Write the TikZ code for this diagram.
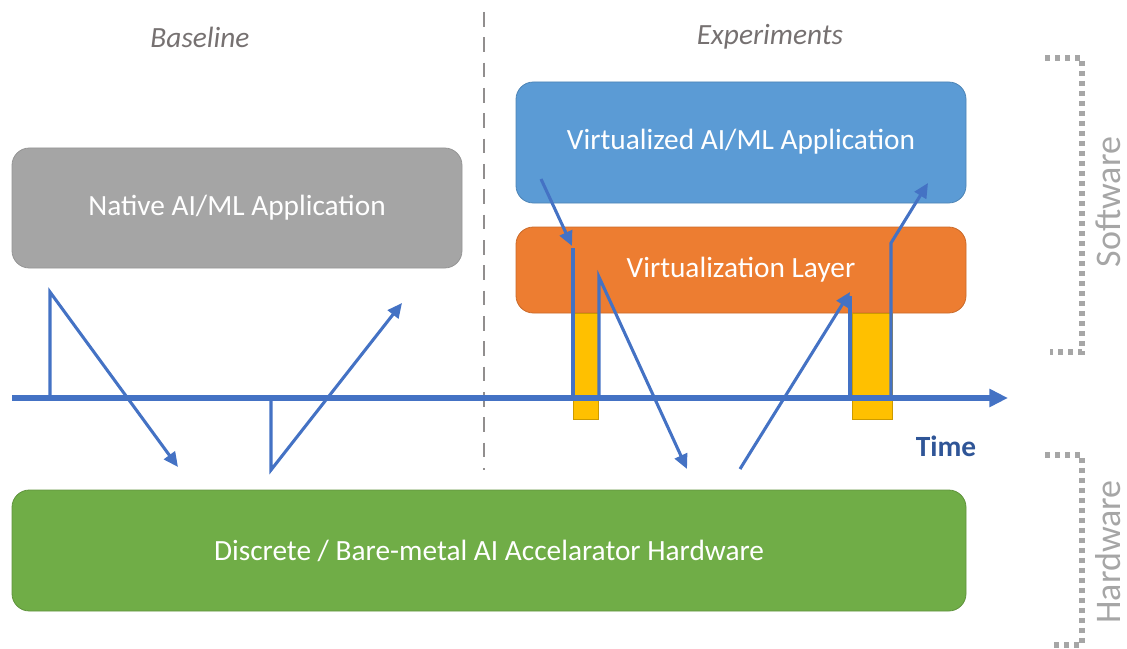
\documentclass[tikz,border=0pt]{standalone}
\usepackage{fontspec}
\setmainfont{Carlito}
\usetikzlibrary{arrows.meta}
\definecolor{cgray}{HTML}{A5A5A5}
\definecolor{cblue}{HTML}{5B9BD5}
\definecolor{corange}{HTML}{ED7D31}
\definecolor{cgreen}{HTML}{70AD47}
\definecolor{cyellow}{HTML}{FFC000}
\definecolor{carrow}{HTML}{4472C4}
\definecolor{ctime}{HTML}{2F5597}
\definecolor{ctitle}{HTML}{767171}
\definecolor{cbracket}{HTML}{A6A6A6}
\tikzset{
  box/.style={rounded corners=13pt, line width=0.6pt, text=white, font=\fontsize{22}{24}\selectfont},
  flow/.style={carrow, line width=2.3pt, line join=miter},
  tip/.style={-{Triangle[length=11pt,width=10pt]}},
  title/.style={font=\fontsize{22}{24}\selectfont\itshape, text=ctitle},
  brk/.style={cbracket, line width=4pt, dash pattern=on 4pt off 3.5pt},
  side/.style={font=\fontsize{27}{29}\selectfont, text=cbracket, rotate=90, inner sep=0pt},
  bar/.style={fill=cyellow, draw=cyellow!80!black, line width=0.6pt}
}
\begin{document}
\begin{tikzpicture}[x=0.75pt,y=-0.75pt]
\useasboundingbox (0,0) rectangle (1127,649);
% titles
\node[title] (tbase) at (200,37) {Baseline};
\node[title] (texp) at (770,37) {Experiments};
\draw[ctitle!80, line width=1.6pt, dash pattern=on 11pt off 8pt] (484,12) -- (484,470);
% boxes
\draw[box, fill=cgray, draw=cgray!90!black] (12,148) rectangle (462,268);
\node[box] (native) at (237,208) {Native AI/ML Application};
\draw[box, fill=cblue, draw=cblue!85!black] (516,82) rectangle (966,203);
\node[box] (virtapp) at (741,142) {Virtualized AI/ML Application};
\draw[box, fill=corange, draw=corange!85!black] (516,227) rectangle (966,313);
\node[box] (vlayer) at (741,270) {Virtualization Layer};
\draw[box, fill=cgreen, draw=cgreen!85!black] (12,490) rectangle (966,611);
\node[box] (hw) at (489,551) {Discrete / Bare-metal AI Accelarator Hardware};
% yellow bars
\draw[bar] (573,313) rectangle (598,419);
\draw[bar] (852,313) rectangle (892,419);
% time axis
\coordinate (t0) at (12,398);
\coordinate (t1) at (1008,398);
\draw[carrow, line width=4pt, -{Triangle[length=14pt,width=13pt]}] (t0) -- (t1);
\node[font=\fontsize{22}{24}\selectfont\bfseries, text=ctime] (time) at (946,446) {Time};
% baseline arrows
\coordinate (a0) at (50,398);
\coordinate (a1) at (50,292);
\coordinate (a2) at (178,467);
\draw[flow, tip] (a0) -- (a1) -- (a2);
\coordinate (b0) at (271,398);
\coordinate (b1) at (271,470);
\coordinate (b2) at (402,303);
\draw[flow, tip] (b0) -- (b1) -- (b2);
% experiment arrows
\coordinate (c0) at (541,179);
\coordinate (c1) at (572,246);
\draw[flow, tip] (c0) -- (c1);
\coordinate (c2) at (573,248);
\coordinate (c3) at (573,398);
\draw[flow] (c2) -- (c3);
\coordinate (d0) at (599,398);
\coordinate (d1) at (599,277);
\coordinate (d2) at (687,469);
\draw[flow, tip] (d0) -- (d1) -- (d2);
\coordinate (e0) at (740,469);
\coordinate (e1) at (850,292);
\draw[flow, tip] (e0) -- (e1);
\coordinate (e2) at (850,296);
\coordinate (e3) at (850,398);
\draw[flow] (e2) -- (e3);
\coordinate (f0) at (891,398);
\coordinate (f1) at (891,243);
\coordinate (f2) at (928,183);
\draw[flow, tip] (f0) -- (f1) -- (f2);
% brackets
\draw[brk] (1045,58) -- (1082,58) -- (1082,352) -- (1050,352);
\node[side] (sw) at (1108,202) {Software};
\draw[brk] (1045,455) -- (1082,455) -- (1082,645) -- (1050,645);
\node[side] (hwl) at (1108,552) {Hardware};
\end{tikzpicture}
\end{document}
